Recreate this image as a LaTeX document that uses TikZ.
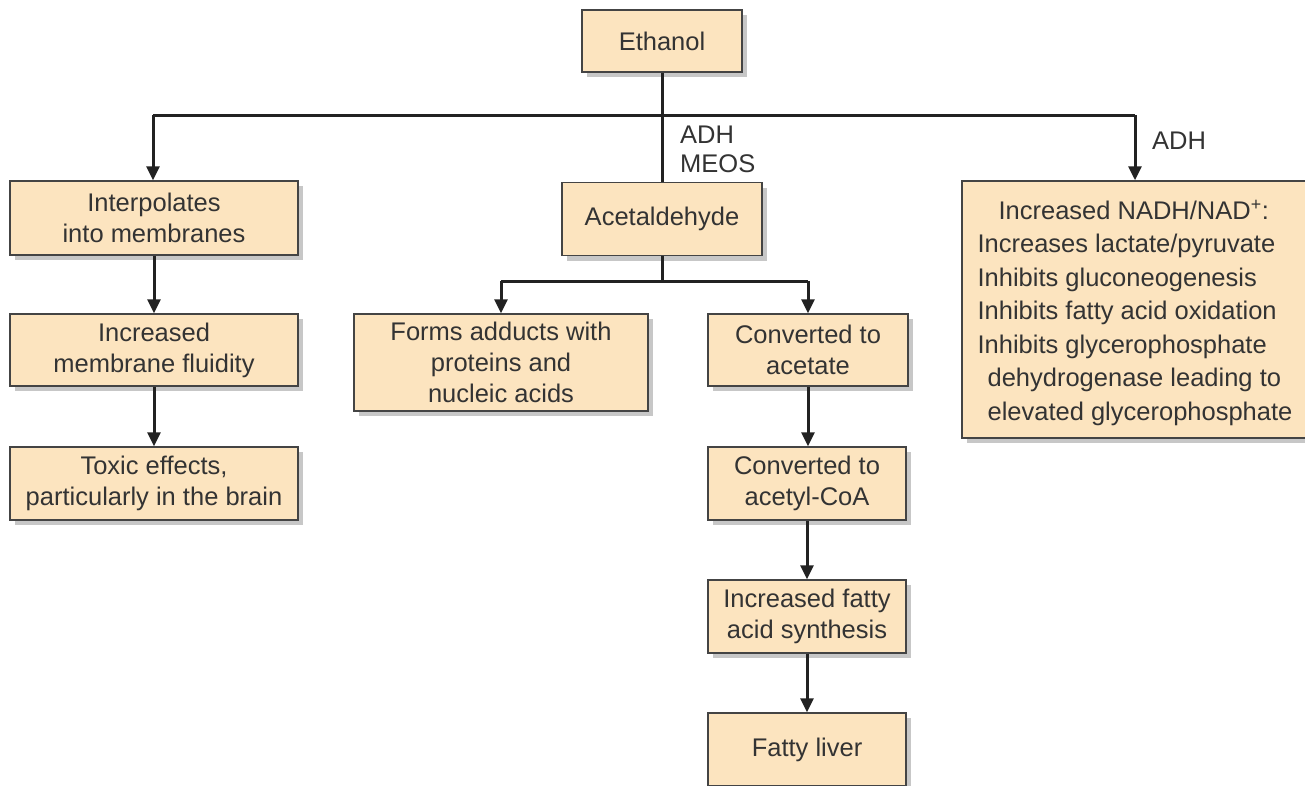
\documentclass[tikz,border=0pt]{standalone}
\usepackage{fontspec}
\setmainfont{Liberation Sans}
\usetikzlibrary{arrows.meta,shadows}
\definecolor{boxfill}{HTML}{FCE4BF}
\definecolor{boxline}{HTML}{444444}
\definecolor{txt}{HTML}{333333}
\definecolor{conn}{HTML}{222222}
\begin{document}
\begin{tikzpicture}[x=1pt,y=-1pt,
  every node/.style={font=\fontsize{25.5}{31}\selectfont, text=txt},
  box/.style={draw=boxline, line width=1.5pt, fill=boxfill, align=center, inner sep=0pt,
    drop shadow={shadow xshift=5pt, shadow yshift=-5pt, fill=black!22, opacity=1}},
  conline/.style={draw=conn, line width=3pt},
  arr/.style={conline, -{Triangle[length=14pt,width=13pt]}},
  lbl/.style={anchor=west, inner sep=0pt}]
\useasboundingbox (0,0) rectangle (1305,785);
% boxes
\node[box, minimum width=160pt, minimum height=62pt] (eth) at (662,41) {Ethanol};
\node[box, minimum width=288pt, minimum height=74pt] (interp) at (154,218) {Interpolates\\into membranes};
\node[box, minimum width=288pt, minimum height=72pt] (fluid) at (154,350) {Increased\\membrane fluidity};
\node[box, minimum width=288pt, minimum height=73pt] (toxic) at (154,483.5) {Toxic effects,\\particularly in the brain};
\node[box, minimum width=200pt, minimum height=73pt] (acet) at (662,219) {Acetaldehyde};
\node[box, minimum width=294pt, minimum height=97pt] (adduct) at (501,362.5) {Forms adducts with\\proteins and\\nucleic acids};
\node[box, minimum width=200pt, minimum height=72pt] (acetate) at (808,350) {Converted to\\acetate};
\node[box, minimum width=198pt, minimum height=73pt] (acoa) at (807,483.5) {Converted to\\acetyl-CoA};
\node[box, minimum width=198pt, minimum height=73pt] (fas) at (807,616.5) {Increased fatty\\acid synthesis};
\node[box, minimum width=198pt, minimum height=73pt] (liver) at (807,749.5) {Fatty liver};
\node[box, minimum width=346pt, minimum height=257pt, align=left,
  font=\fontsize{25.5}{33.5}\selectfont] (nadh) at (1135,309.5)
  {\rule{0pt}{26pt}\hspace*{21pt}Increased NADH/NAD\textsuperscript{+}:\\
   Increases lactate/pyruvate\\
   Inhibits gluconeogenesis\\
   Inhibits fatty acid oxidation\\
   Inhibits glycerophosphate\\
   \hspace*{10pt}dehydrogenase leading to\\
   \hspace*{10pt}elevated glycerophosphate};
% labels
\node[lbl] (adh1) at (680,135) {ADH};
\node[lbl] (meos) at (680,164) {MEOS};
\node[lbl] (adh2) at (1152,141) {ADH};
% junction coordinates
\coordinate (jl) at (153,115);
\coordinate (jr) at (1135,115);
\coordinate (al) at (501,281);
\coordinate (ar) at (808,281);
% connectors
\draw[conline] (eth.south) -- (acet.north);
\draw[conline] (jl) -- (jr);
\draw[arr] (jl) -- (jl |- interp.north);
\draw[arr] (jr) -- (jr |- nadh.north);
\draw[arr] (interp.south) -- (fluid.north);
\draw[arr] (fluid.south) -- (toxic.north);
\draw[conline] (acet.south) -- (acet.south |- al);
\draw[conline] (al) -- (ar);
\draw[arr] (al) -- (adduct.north);
\draw[arr] (ar) -- (acetate.north);
\draw[arr] (acetate.south) -- (acetate.south |- acoa.north);
\draw[arr] (acoa.south) -- (fas.north);
\draw[arr] (fas.south) -- (liver.north);
\end{tikzpicture}
\end{document}
